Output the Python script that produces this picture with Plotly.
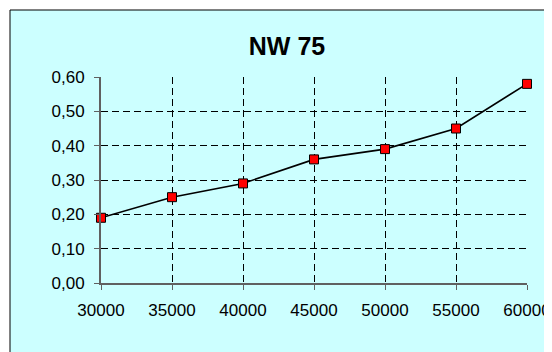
import plotly.graph_objects as go

x_vals = [30000, 35000, 40000, 45000, 50000, 55000, 60000]
y_vals = [0.19, 0.25, 0.29, 0.36, 0.39, 0.45, 0.58]
y_ticks = [0.0, 0.1, 0.2, 0.3, 0.4, 0.5, 0.6]
y_ticklabels = ["0,00", "0,10", "0,20", "0,30", "0,40", "0,50", "0,60"]
x_ticks = [30000, 35000, 40000, 45000, 50000, 55000, 60000]
x_ticklabels = ["30000", "35000", "40000", "45000", "50000", "55000", "60000"]
title_text = "NW 75"

CYAN = "#CCFFFF"
FONT = "Liberation Sans, Arial, sans-serif"

# page body has an 8px default margin; figure coordinates are compensated for it
W, H = 544, 344
L, R, T, B = 93, 25, 69, 69
PW, PH = W - L - R, H - T - B

fig = go.Figure()
fig.add_trace(go.Scatter(
    x=x_vals, y=y_vals, mode="lines+markers",
    line=dict(color="black", width=1.6),
    marker=dict(symbol="square", size=9, color="#FF0000",
                line=dict(color="black", width=1)),
    showlegend=False, cliponaxis=False,
))

fig.update_layout(
    width=W, height=H,
    margin=dict(l=L, r=R, t=T, b=B, autoexpand=False),
    paper_bgcolor="white", plot_bgcolor=CYAN,
    font=dict(family=FONT, size=17, color="black"),
    title=dict(text="<b>" + title_text + "</b>", x=279/W, xref="container",
               xanchor="center", y=1-38/H, yref="container", yanchor="middle",
               font=dict(family=FONT, size=25, color="black")),
    shapes=[dict(type="rect", xref="paper", yref="paper",
                 x0=(2-L)/PW, x1=1.3, y0=-0.6, y1=(H-B-2)/PH,
                 fillcolor=CYAN, line=dict(color="black", width=1), layer="below")],
    showlegend=False,
)
fig.update_xaxes(
    range=[30000, 60000], tickvals=x_ticks, ticktext=x_ticklabels,
    showline=True, linecolor="#606060", linewidth=2,
    ticks="outside", ticklen=5, tickcolor="#606060", tickwidth=1,
    showgrid=True, gridcolor="black", gridwidth=1, griddash="7px,4px",
    zeroline=False, ticklabelstandoff=6, automargin=False,
)
fig.update_yaxes(
    range=[0, 0.6], tickvals=y_ticks, ticktext=y_ticklabels,
    showline=True, linecolor="#606060", linewidth=2,
    ticks="outside", ticklen=5, tickcolor="#606060", tickwidth=1,
    showgrid=True, gridcolor="black", gridwidth=1, griddash="7px,4px",
    zeroline=False, ticklabelstandoff=6, automargin=False,
)
fig.write_html("out.html")
